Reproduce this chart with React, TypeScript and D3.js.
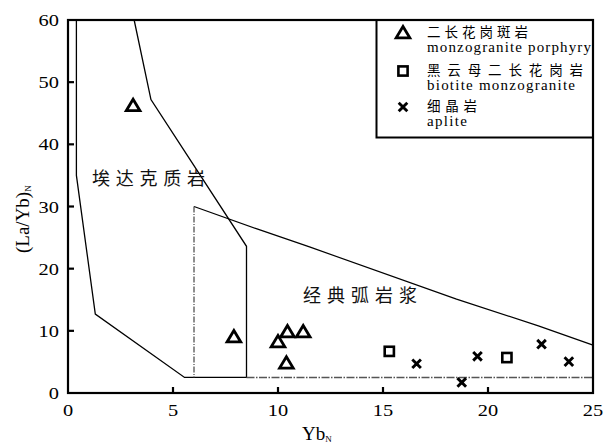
import React from "react";
import * as d3 from "d3";

const W = 612, H = 443;
const M = { left: 68, right: 593, top: 20, bottom: 393 };

const xTicks = [0, 5, 10, 15, 20, 25];
const yTicks = [0, 10, 20, 30, 40, 50, 60];

// Adakite field boundary (solid)
const adakiteX = [0.4, 0.4, 1.3, 5.55, 8.5, 8.5, 3.95, 3.15];
const adakiteY = [60, 35, 12.7, 2.5, 2.5, 23.6, 47.2, 60];

// Classic arc field upper boundary
const arcX = [6, 9, 11.5, 18.5, 22.4, 25];
const arcY = [30, 26.4, 23.5, 15.1, 10.8, 7.7];

// monzogranite porphyry (triangles)
const triX = [3.1, 7.9, 10.0, 10.45, 11.2, 10.4];
const triY = [46.2, 9.0, 8.2, 9.8, 9.8, 4.8];
// biotite monzogranite (squares)
const sqX = [15.3, 20.9];
const sqY = [6.7, 5.7];
// aplite (crosses)
const crX = [16.6, 18.75, 19.5, 22.55, 23.85];
const crY = [4.7, 1.7, 5.9, 7.85, 5.05];

const x = d3.scaleLinear().domain([0, 25]).range([M.left, M.right]);
const y = d3.scaleLinear().domain([0, 60]).range([M.bottom, M.top]);

const serif = "'Liberation Serif', 'Times New Roman', serif";
const cjk = "'Noto Sans CJK SC', sans-serif";

function Tri({ cx, cy }: { cx: number; cy: number }) {
  const s = 6.5;
  const d = `M${cx},${cy - s} L${cx + s * 1.05},${cy + s * 0.75} L${cx - s * 1.05},${cy + s * 0.75} Z`;
  return <path d={d} fill="none" stroke="#000" strokeWidth={2.8} strokeLinejoin="miter" />;
}
function Sq({ cx, cy }: { cx: number; cy: number }) {
  const s = 4.6;
  return <rect x={cx - s} y={cy - s} width={2 * s} height={2 * s} fill="none" stroke="#000" strokeWidth={2.6} />;
}
function Cr({ cx, cy }: { cx: number; cy: number }) {
  const s = 4.3;
  return (
    <path d={`M${cx - s},${cy - s} L${cx + s},${cy + s} M${cx - s},${cy + s} L${cx + s},${cy - s}`} stroke="#000" strokeWidth={2.9} />
  );
}

const toPts = (xs: number[], ys: number[]) => xs.map((v, i) => [v, ys[i]] as [number, number]);

export default function App() {
  const gen = d3.line<[number, number]>().x((d) => x(d[0])).y((d) => y(d[1]));
  const adPath = gen(toPts(adakiteX, adakiteY))!;
  const arcPath = gen(toPts(arcX, arcY))!;
  const ser = { fontFamily: serif };
  const cj = { fontFamily: cjk };
  return (
    <svg width={W} height={H} style={{ position: "absolute", left: 0, top: 0, background: "#fff" }}>
      <rect width={W} height={H} fill="#fff" />
      {/* fields */}
      <path d={adPath} fill="none" stroke="#000" strokeWidth={1.3} />
      <path d={arcPath} fill="none" stroke="#000" strokeWidth={1.2} />
      <line x1={x(6)} x2={x(6)} y1={y(30)} y2={y(2.5)} stroke="#444" strokeWidth={1.2} strokeDasharray="6,1.5,1,1.5" />
      <line x1={x(8.5)} x2={x(25)} y1={y(2.5)} y2={y(2.5)} stroke="#555" strokeWidth={1.4} strokeDasharray="8,1.5,1.5,1.5" />

      {/* field labels */}
      <text x={92} y={185} style={cj} fontSize={18} textLength={113} lengthAdjust="spacing" fill="#111">埃达克质岩</text>
      <text x={303} y={302} style={cj} fontSize={18} textLength={114} lengthAdjust="spacing" fill="#111">经典弧岩浆</text>

      {/* data */}
      {triX.map((v, i) => <Tri key={"t" + i} cx={x(v)} cy={y(triY[i])} />)}
      {sqX.map((v, i) => <Sq key={"s" + i} cx={x(v)} cy={y(sqY[i])} />)}
      {crX.map((v, i) => <Cr key={"c" + i} cx={x(v)} cy={y(crY[i])} />)}

      {/* legend */}
      <rect x={376.5} y={M.top} width={M.right - 376.5} height={137.5 - M.top} fill="#fff" stroke="#000" strokeWidth={2} />
      <Tri cx={403} cy={33} />
      <text x={427} y={36.5} style={cj} fontSize={13.5} textLength={101} lengthAdjust="spacing">二长花岗斑岩</text>
      <text x={427} y={52} style={ser} fontSize={15} textLength={164} lengthAdjust="spacing">monzogranite porphyry</text>
      <Sq cx={403} cy={71} />
      <text x={427} y={74.5} style={cj} fontSize={13.5} textLength={156} lengthAdjust="spacing">黑云母二长花岗岩</text>
      <text x={427} y={90} style={ser} fontSize={15} textLength={148} lengthAdjust="spacing">biotite monzogranite</text>
      <Cr cx={403} cy={107} />
      <text x={427} y={110.5} style={cj} fontSize={13.5} textLength={50} lengthAdjust="spacing">细晶岩</text>
      <text x={427} y={126} style={ser} fontSize={15} textLength={40} lengthAdjust="spacing">aplite</text>

      {/* frame */}
      <rect x={M.left} y={M.top} width={M.right - M.left} height={M.bottom - M.top} fill="none" stroke="#000" strokeWidth={2.2} />
      {/* ticks */}
      {xTicks.slice(1, -1).map((t) => (
        <line key={"xt" + t} x1={x(t)} x2={x(t)} y1={M.bottom} y2={M.bottom - 6} stroke="#000" strokeWidth={2.2} />
      ))}
      {yTicks.slice(1, -1).map((t) => (
        <line key={"yt" + t} x1={M.left} x2={M.left + 6} y1={y(t)} y2={y(t)} stroke="#000" strokeWidth={2.2} />
      ))}
      {xTicks.map((t) => (
        <text key={"xl" + t} transform={`translate(${x(t)},416) scale(1.2,1)`} textAnchor="middle" style={ser} fontSize={17}>{t}</text>
      ))}
      {yTicks.map((t) => (
        <text key={"yl" + t} transform={`translate(59,${y(t) + 6}) scale(1.2,1)`} textAnchor="end" style={ser} fontSize={17}>{t}</text>
      ))}

      {/* axis titles */}
      <text x={302} y={440} style={ser} fontSize={19}>
        Yb<tspan fontSize={9} dy={2}>N</tspan>
      </text>
      <text transform="translate(29,253) rotate(-90)" style={ser} fontSize={19}>
        (La/Yb)<tspan fontSize={9} dy={2}>N</tspan>
      </text>
    </svg>
  );
}
